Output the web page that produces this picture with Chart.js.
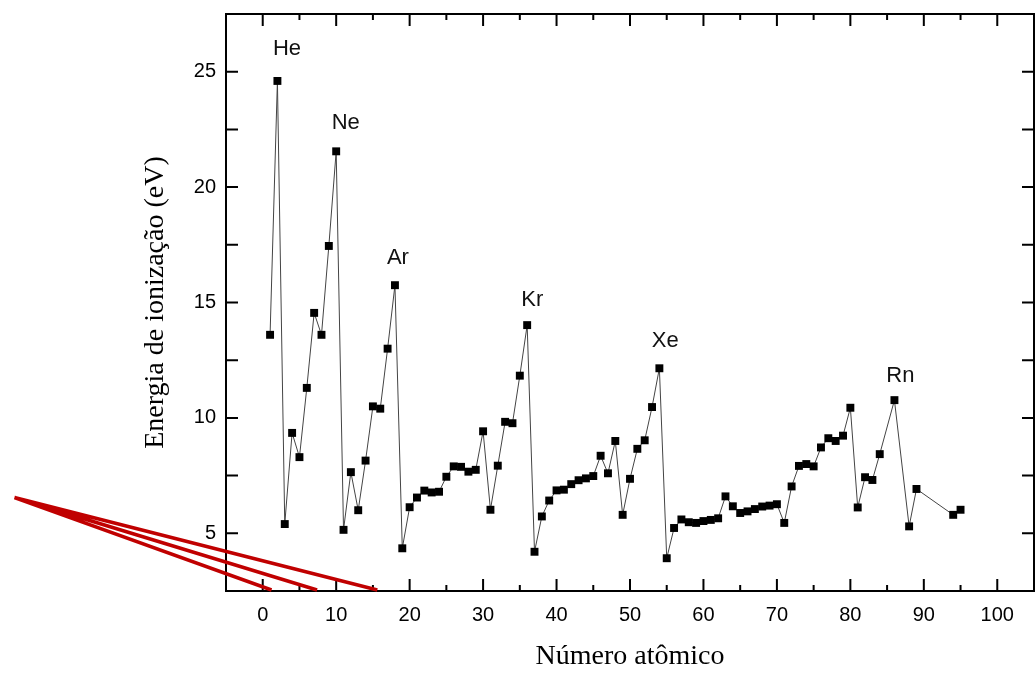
<!DOCTYPE html>
<html>
<head>
<meta charset="utf-8">
<script src="https://cdn.jsdelivr.net/npm/chart.js@4.4.0/dist/chart.umd.min.js"></script>
<style>
html, body { margin: 0; padding: 0; background: #fff; }
</style>
</head>
<body>
<canvas id="chart" width="1035" height="676"></canvas>
<script>
// Données : numéro atomique et énergie d'ionisation (eV)
const atomicNumbers = [
    1, 2, 3, 4, 5, 6, 7, 8, 9, 10,
    11, 12, 13, 14, 15, 16, 17, 18, 19, 20,
    21, 22, 23, 24, 25, 26, 27, 28, 29, 30,
    31, 32, 33, 34, 35, 36, 37, 38, 39, 40,
    41, 42, 43, 44, 45, 46, 47, 48, 49, 50,
    51, 52, 53, 54, 55, 56, 57, 58, 59, 60,
    61, 62, 63, 64, 65, 66, 67, 68, 69, 70,
    71, 72, 73, 74, 75, 76, 77, 78, 79, 80,
    81, 82, 83, 84, 86, 88, 89, 94, 95
];
const energies = [
    13.6, 24.6, 5.4, 9.35, 8.3, 11.3, 14.55, 13.6, 17.45, 21.55,
    5.15, 7.65, 6.0, 8.15, 10.5, 10.4, 13.0, 15.75, 4.35, 6.13,
    6.55, 6.85, 6.77, 6.8, 7.45, 7.9, 7.88, 7.67, 7.75, 9.42,
    6.02, 7.93, 9.83, 9.77, 11.83, 14.02, 4.2, 5.73, 6.42, 6.86,
    6.89, 7.13, 7.3, 7.38, 7.48, 8.36, 7.6, 9.0, 5.8, 7.36,
    8.66, 9.03, 10.47, 12.15, 3.92, 5.23, 5.6, 5.48, 5.45, 5.53,
    5.58, 5.65, 6.6, 6.17, 5.88, 5.95, 6.05, 6.16, 6.2, 6.26,
    5.45, 7.03, 7.92, 8.0, 7.9, 8.72, 9.12, 9.0, 9.23, 10.44,
    6.12, 7.43, 7.31, 8.43, 10.77, 5.3, 6.92, 5.8, 6.02
];

// Gaz nobles (étiquettes)
const nobleNames = ["He", "Ne", "Ar", "Kr", "Xe", "Rn"];
const nobleLabelX = [3.3, 11.3, 18.4, 36.7, 54.8, 86.8];
const nobleLabelY = [26.0, 22.8, 16.95, 15.1, 13.35, 11.8];

// Graduations
const xTicks = [0, 10, 20, 30, 40, 50, 60, 70, 80, 90, 100];
const xMinorTicks = [5, 15, 25, 35, 45, 55, 65, 75, 85, 95];
const yTicks = [5, 10, 15, 20, 25];
const yMinorTicks = [7.5, 12.5, 17.5, 22.5];

// Traits rouges (annotation en bas à gauche)
const redStart = { x: -33.8, y: 6.55 };
const redEndsX = [1.2, 7.4, 15.6];

const points = atomicNumbers.map((z, i) => ({ x: z, y: energies[i] }));

// Cadre, graduations vers l'intérieur, étiquettes et traits rouges
const decorPlugin = {
    id: "decor",
    afterDraw(chart) {
        const ctx = chart.ctx;
        const a = chart.chartArea;
        const sx = chart.scales.x;
        const sy = chart.scales.y;
        ctx.save();
        ctx.strokeStyle = "#000";
        ctx.lineWidth = 2;
        ctx.strokeRect(a.left, a.top, a.right - a.left, a.bottom - a.top);

        ctx.beginPath();
        xTicks.forEach(v => {
            const px = sx.getPixelForValue(v);
            ctx.moveTo(px, a.bottom); ctx.lineTo(px, a.bottom - 12);
            ctx.moveTo(px, a.top); ctx.lineTo(px, a.top + 12);
        });
        xMinorTicks.forEach(v => {
            const px = sx.getPixelForValue(v);
            ctx.moveTo(px, a.bottom); ctx.lineTo(px, a.bottom - 6);
            ctx.moveTo(px, a.top); ctx.lineTo(px, a.top + 6);
        });
        yTicks.concat(yMinorTicks).forEach(v => {
            const py = sy.getPixelForValue(v);
            ctx.moveTo(a.left, py); ctx.lineTo(a.left + 12, py);
            ctx.moveTo(a.right, py); ctx.lineTo(a.right - 12, py);
        });
        ctx.stroke();

        ctx.font = '22px "Liberation Sans", Arial, sans-serif';
        ctx.fillStyle = "#111";
        ctx.textAlign = "center";
        ctx.textBaseline = "middle";
        nobleNames.forEach((n, i) => {
            ctx.fillText(n, sx.getPixelForValue(nobleLabelX[i]), sy.getPixelForValue(nobleLabelY[i]));
        });

        ctx.strokeStyle = "#c00000";
        ctx.lineWidth = 3.5;
        ctx.beginPath();
        redEndsX.forEach(xe => {
            ctx.moveTo(sx.getPixelForValue(redStart.x), sy.getPixelForValue(redStart.y));
            ctx.lineTo(sx.getPixelForValue(xe), a.bottom - 1);
        });
        ctx.stroke();
        ctx.restore();
    }
};

const tickFont = { family: '"Liberation Sans", Arial, sans-serif', size: 20 };
const titleFont = { family: '"Liberation Serif", "Times New Roman", serif', size: 28 };

new Chart(document.getElementById("chart"), {
    type: "scatter",
    data: {
        datasets: [{
            data: points,
            showLine: true,
            borderColor: "#444",
            borderWidth: 1,
            pointStyle: "rect",
            pointRadius: 5.6,
            pointBackgroundColor: "#000",
            pointBorderWidth: 0
        }]
    },
    options: {
        responsive: false,
        animation: false,
        layout: { autoPadding: false, padding: { top: 14, right: 1, left: 0, bottom: 0 } },
        plugins: { legend: { display: false }, tooltip: { enabled: false } },
        scales: {
            x: {
                type: "linear",
                min: -5,
                max: 105,
                afterFit(s) { s.height = 85; s.paddingLeft = 0; s.paddingRight = 0; },
                afterBuildTicks(s) { s.ticks = xTicks.map(v => ({ value: v })); },
                grid: { display: false, drawTicks: false },
                border: { display: false },
                ticks: { padding: 12, font: tickFont, color: "#000", maxRotation: 0 },
                title: {
                    display: true, text: "Número atômico", font: titleFont, color: "#000",
                    padding: { top: 0, bottom: 3 }
                }
            },
            y: {
                type: "linear",
                min: 2.5,
                max: 27.5,
                afterFit(s) { s.width = 226; s.paddingTop = 0; s.paddingBottom = 0; },
                afterBuildTicks(s) { s.ticks = yTicks.map(v => ({ value: v })); },
                grid: { display: false, drawTicks: false },
                border: { display: false },
                ticks: { padding: 10, font: tickFont, color: "#000" },
                title: {
                    display: true, text: "Energia de ionização (eV)", font: titleFont, color: "#000",
                    padding: { top: 139, bottom: 0 }
                }
            }
        }
    },
    plugins: [decorPlugin]
});
</script>
</body>
</html>
